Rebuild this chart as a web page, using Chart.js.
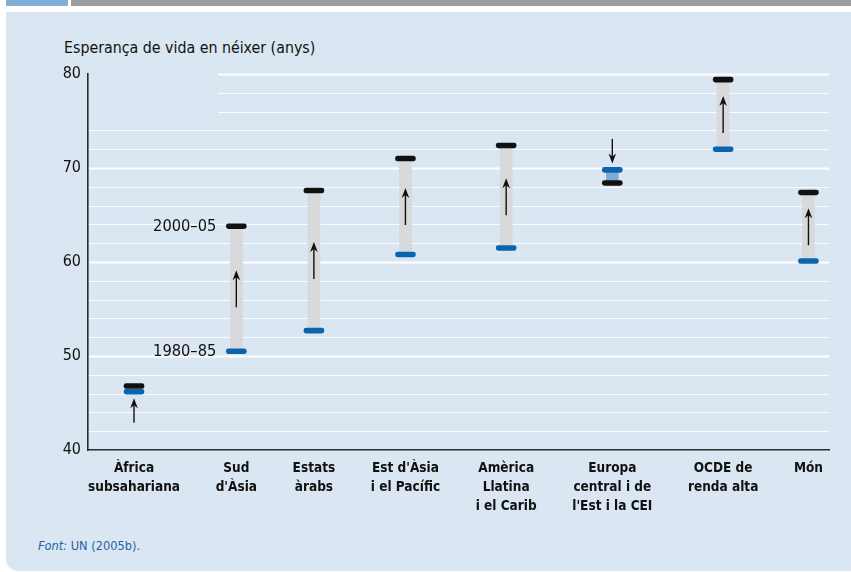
<!DOCTYPE html>
<html>
<head>
<meta charset="utf-8">
<script src="https://cdn.jsdelivr.net/npm/chart.js@4.4.1/dist/chart.umd.min.js"></script>
<style>
  html, body { margin: 0; padding: 0; background: #ffffff; }
  body { width: 851px; height: 572px; position: relative; overflow: hidden;
         font-family: "DejaVu Sans Condensed", "Liberation Sans Narrow", Roboto, sans-serif; }
  #hdrBlue { position: absolute; left: 6px; top: 0; width: 62px; height: 6px; background: #7fb0d8; }
  #hdrGray { position: absolute; left: 71px; top: 0; width: 780px; height: 6px; background: #9d9d9f; }
  #panel { position: absolute; left: 6px; top: 12px; width: 845px; height: 559px; background: #dae6f1;
           border-bottom-left-radius: 12px; }
  #ytitle { position: absolute; left: 64px; top: 38px; font-size: 15.8px; color: #111; white-space: nowrap; }
  #source { position: absolute; left: 38px; top: 538px; font-size: 12.7px; color: #1f63a8; white-space: nowrap; }
  #source i { font-style: italic; }
  canvas { position: absolute; left: 0; top: 0; }
</style>
</head>
<body>
<div id="hdrBlue"></div>
<div id="hdrGray"></div>
<div id="panel"></div>
<div id="ytitle">Esperança de vida en néixer (anys)</div>
<div id="source"><i>Font:</i> UN (2005b).</div>
<canvas id="c" width="851" height="572"></canvas>
<script>
// ---- data ----
const categories = [
  ["Àfrica", "subsahariana"],
  ["Sud", "d'Àsia"],
  ["Estats", "àrabs"],
  ["Est d'Àsia", "i el Pacífic"],
  ["Amèrica", "Llatina", "i el Carib"],
  ["Europa", "central i de", "l'Est i la CEI"],
  ["OCDE de", "renda alta"],
  ["Món"]
];
const life1980_85 = [46.2, 50.5, 52.7, 60.8, 61.5, 69.8, 72.0, 60.1];
const life2000_05 = [46.8, 63.8, 67.6, 71.0, 72.4, 68.4, 79.4, 67.4];
const periodLabels = ["1980–85", "2000–05"];
const yTicks = [40, 50, 60, 70, 80];

const FONT = '"DejaVu Sans Condensed", "Liberation Sans Narrow", Roboto, sans-serif';
const XFONT_SIZE = 13.5;

// ---- layout: category slots sized by the width of their labels ----
const PLOT_W = 851 - 88 - 22;
const END_GAP = 6;
const mctx = document.createElement('canvas').getContext('2d');
mctx.font = 'bold ' + XFONT_SIZE + 'px ' + FONT;
const labelW = categories.map(lines => Math.max(...lines.map(l => mctx.measureText(l).width)));
const sumW = labelW.reduce((a, b) => a + b, 0);
const gap = (PLOT_W - sumW - END_GAP) / (categories.length - 1);
const centers = [];
labelW.forEach((w, i) => {
  if (i === 0) centers.push(w / 2);
  else centers.push(centers[i - 1] + labelW[i - 1] / 2 + gap + w / 2);
});

// ---- derived chart data ----
const markerHalf = 0.26;
const rangeData = life1980_85.map((s, i) => ({ x: centers[i], y: [s, life2000_05[i]] }));
const startMarks = life1980_85.map((v, i) => ({ x: centers[i], y: [v - markerHalf, v + markerHalf] }));
const endMarks = life2000_05.map((v, i) => ({ x: centers[i], y: [v - markerHalf, v + markerHalf] }));
const rangeColors = life1980_85.map((s, i) => life2000_05[i] >= s ? '#d8d9db' : '#7eaad3');

// custom light gridlines
const gridPlugin = {
  id: 'gridPlugin',
  beforeDatasetsDraw(chart) {
    const {ctx, chartArea, scales: {y}} = chart;
    ctx.save();
    for (let v = 42; v <= 80; v += 2) {
      const py = Math.round(y.getPixelForValue(v)) + 0.5;
      const major = v % 10 === 0;
      const x0 = v >= 76 ? 218 : chartArea.left + 1;
      ctx.strokeStyle = major ? '#ffffff' : 'rgba(255,255,255,0.85)';
      ctx.lineWidth = major ? 2 : 1.2;
      ctx.beginPath();
      ctx.moveTo(x0, py);
      ctx.lineTo(chartArea.right, py);
      ctx.stroke();
    }
    ctx.restore();
  }
};

function drawArrow(ctx, x, yTail, yTip) {
  const dir = yTip < yTail ? -1 : 1;
  const headLen = 10, headW = 3.8;
  ctx.beginPath();
  ctx.moveTo(x, yTail);
  ctx.lineTo(x, yTip - dir * 6);
  ctx.strokeStyle = '#111';
  ctx.lineWidth = 1.4;
  ctx.stroke();
  ctx.beginPath();
  ctx.moveTo(x, yTip);
  ctx.lineTo(x - headW, yTip - dir * headLen);
  ctx.lineTo(x, yTip - dir * (headLen - 3));
  ctx.lineTo(x + headW, yTip - dir * headLen);
  ctx.closePath();
  ctx.fillStyle = '#111';
  ctx.fill();
}

const arrowPlugin = {
  id: 'arrowPlugin',
  afterDatasetsDraw(chart) {
    const {ctx, scales: {x, y}} = chart;
    ctx.save();
    life1980_85.forEach((s, i) => {
      const e = life2000_05[i];
      const px = x.getPixelForValue(centers[i]);
      const ys = y.getPixelForValue(s), ye = y.getPixelForValue(e);
      const up = e >= s;
      if (Math.abs(ye - ys) > 50) {
        const mid = (ys + ye) / 2;
        const half = 18.5;
        if (up) drawArrow(ctx, px, mid + half, mid - half);
        else drawArrow(ctx, px, mid - half, mid + half);
      } else {
        if (up) drawArrow(ctx, px, ys + 31, ys + 6.5);
        else drawArrow(ctx, px, ys - 31, ys - 6.5);
      }
    });
    // period labels beside second category
    const lx = x.getPixelForValue(centers[1]) - 20;
    ctx.font = '16.3px ' + FONT;
    ctx.fillStyle = '#111';
    ctx.textAlign = 'right';
    ctx.textBaseline = 'middle';
    ctx.fillText(periodLabels[1], lx, y.getPixelForValue(life2000_05[1]));
    ctx.fillText(periodLabels[0], lx, y.getPixelForValue(life1980_85[1]));
    ctx.restore();
  }
};

new Chart(document.getElementById('c'), {
  type: 'bar',
  data: {
    datasets: [
      { label: periodLabels[0], data: startMarks, backgroundColor: '#0b64ae', barThickness: 20,
        borderRadius: 3, borderSkipped: false, grouped: false, order: 0 },
      { label: periodLabels[1], data: endMarks, backgroundColor: '#111111', barThickness: 20,
        borderRadius: 3, borderSkipped: false, grouped: false, order: 0 },
      { label: 'range', data: rangeData, backgroundColor: rangeColors, barThickness: 12,
        borderSkipped: false, grouped: false, order: 5 }
    ]
  },
  options: {
    responsive: false,
    animation: false,
    events: [],
    layout: { padding: { left: 0, right: 22, top: 74, bottom: 0 } },
    plugins: { legend: { display: false }, tooltip: { enabled: false }, title: { display: false } },
    scales: {
      x: {
        type: 'linear',
        min: 0,
        max: PLOT_W,
        offset: false,
        afterBuildTicks(scale) { scale.ticks = centers.map(v => ({ value: v })); },
        grid: { display: false, drawTicks: false },
        border: { display: true, color: '#2a2a2a', width: 1.6 },
        ticks: {
          color: '#111', padding: 8.5, maxRotation: 0, autoSkip: false,
          callback: (value, index) => categories[index],
          font: { family: FONT, size: XFONT_SIZE, weight: 'bold', lineHeight: 19 / XFONT_SIZE }
        },
        afterFit(scale) { scale.height = 572 - 450; }
      },
      y: {
        min: 40, max: 80,
        afterBuildTicks(scale) { scale.ticks = yTicks.map(v => ({ value: v })); },
        grid: { display: false, drawTicks: false },
        border: { display: true, color: '#2a2a2a', width: 1.6 },
        ticks: { color: '#111', padding: 7, font: { family: FONT, size: 16 } },
        afterFit(scale) { scale.width = 88; }
      }
    }
  },
  plugins: [gridPlugin, arrowPlugin]
});
</script>
</body>
</html>
